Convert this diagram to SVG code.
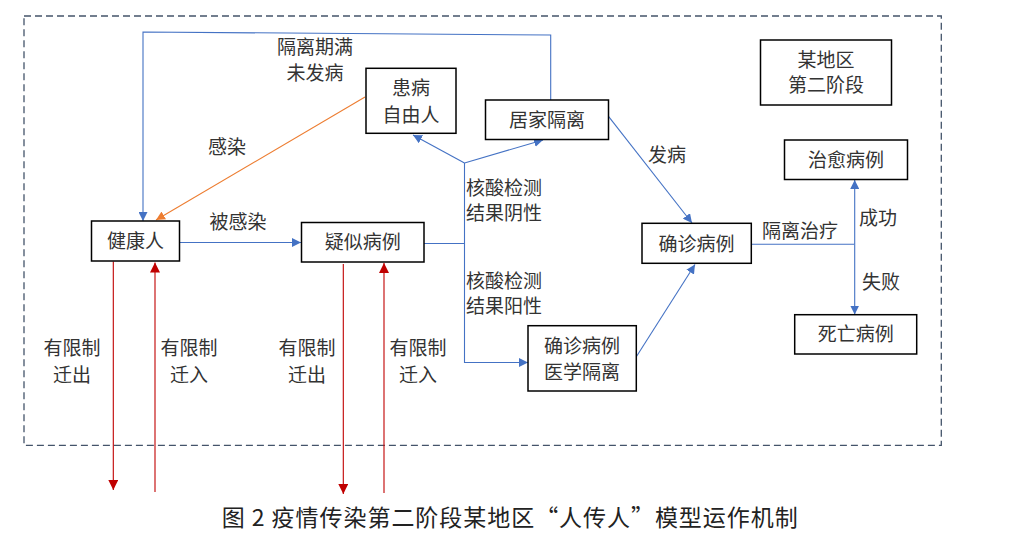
<svg xmlns="http://www.w3.org/2000/svg" width="1018" height="540" viewBox="0 0 1018 540">
<style>
  .box { fill: #ffffff; stroke: #000000; stroke-width: 1.5; }
  .t { font-family: "Noto Sans CJK SC", "Noto Sans CJK JP", sans-serif; font-size: 19px; fill: #333333; text-anchor: middle; }
  .tl { font-family: "Noto Sans CJK SC", "Noto Sans CJK JP", sans-serif; font-size: 19px; fill: #333333; text-anchor: start; }
  .blue { fill: none; stroke: #4472C4; stroke-width: 1.1; }
  .orange { fill: none; stroke: #ED7D31; stroke-width: 1.1; }
  .red { fill: none; stroke: #C00000; stroke-width: 1.1; }
  .frame { fill: none; stroke: #44546A; stroke-width: 1.3; stroke-dasharray: 7 4; }
  .cap { font-family: "Noto Sans CJK SC", "Noto Sans CJK JP", sans-serif; font-size: 23px; fill: #222222; }
</style>
<defs>
  <marker id="ab" viewBox="0 0 10 10" refX="10" refY="5" markerWidth="9" markerHeight="9" markerUnits="userSpaceOnUse" orient="auto">
    <path d="M0,0 L10,5 L0,10 z" fill="#4472C4"/>
  </marker>
  <marker id="ao" viewBox="0 0 10 10" refX="10" refY="5" markerWidth="9" markerHeight="9" markerUnits="userSpaceOnUse" orient="auto">
    <path d="M0,0 L10,5 L0,10 z" fill="#ED7D31"/>
  </marker>
  <marker id="ar" viewBox="0 0 10 10" refX="10" refY="5" markerWidth="10" markerHeight="10" markerUnits="userSpaceOnUse" orient="auto">
    <path d="M0,0 L10,5 L0,10 z" fill="#C00000"/>
  </marker>
</defs>

<rect class="frame" x="24" y="16" width="917.3" height="429.3"/>

<g id="connectors">
  <path class="blue" d="M550.7,100 V35 L143,32 V221" marker-end="url(#ab)"/>
  <path class="orange" d="M365,97 L156,220" marker-end="url(#ao)"/>
  <path class="blue" d="M179.5,242.5 H301" marker-end="url(#ab)"/>
  <path class="blue" d="M424,243.5 H464.5"/>
  <path class="blue" d="M464.5,163 V362.5 H528" marker-end="url(#ab)"/>
  <path class="blue" d="M464.5,163 L413,135" marker-end="url(#ab)"/>
  <path class="blue" d="M464.5,163 L543,140" marker-end="url(#ab)"/>
  <path class="blue" d="M608.7,116.7 L692,223" marker-end="url(#ab)"/>
  <path class="blue" d="M636.3,356.7 L695,264.5" marker-end="url(#ab)"/>
  <path class="blue" d="M751.3,244.3 H854.7"/>
  <path class="blue" d="M854.7,244.3 V180" marker-end="url(#ab)"/>
  <path class="blue" d="M854.7,244.3 V314.5" marker-end="url(#ab)"/>
  <path class="red" d="M113.3,261.5 V490" marker-end="url(#ar)"/>
  <path class="red" d="M155,492 V262.5" marker-end="url(#ar)"/>
  <path class="red" d="M343.3,264 V494" marker-end="url(#ar)"/>
  <path class="red" d="M384,493 V263" marker-end="url(#ar)"/>
</g>

<g id="labels">
  <text class="t" x="315" y="54">隔离期满</text>
  <text class="t" x="315" y="80">未发病</text>
  <text class="t" x="227" y="154">感染</text>
  <text class="t" x="238" y="229">被感染</text>
  <text class="tl" x="466" y="195">核酸检测</text>
  <text class="tl" x="466" y="220">结果阴性</text>
  <text class="tl" x="466" y="288">核酸检测</text>
  <text class="tl" x="466" y="313">结果阳性</text>
  <text class="t" x="667" y="162">发病</text>
  <text class="t" x="800" y="238">隔离治疗</text>
  <text class="t" x="878" y="225">成功</text>
  <text class="t" x="881" y="289">失败</text>
  <text class="t" x="72" y="355">有限制</text>
  <text class="t" x="72" y="382">迁出</text>
  <text class="t" x="189" y="355">有限制</text>
  <text class="t" x="189" y="382">迁入</text>
  <text class="t" x="307" y="355">有限制</text>
  <text class="t" x="307" y="382">迁出</text>
  <text class="t" x="418" y="355">有限制</text>
  <text class="t" x="418" y="382">迁入</text>
</g>

<g id="node-healthy">
  <rect class="box" x="91.5" y="221" width="88" height="40"/>
  <text class="t" x="135.5" y="248">健康人</text>
</g>
<g id="node-suspected">
  <rect class="box" x="301.5" y="222.5" width="122.5" height="39.5"/>
  <text class="t" x="362.7" y="249">疑似病例</text>
</g>
<g id="node-free-patient">
  <rect class="box" x="366" y="68.3" width="90" height="65"/>
  <text class="t" x="411" y="95">患病</text>
  <text class="t" x="411" y="122">自由人</text>
</g>
<g id="node-home-quarantine">
  <rect class="box" x="485.5" y="100" width="123" height="39.5"/>
  <text class="t" x="547" y="127">居家隔离</text>
</g>
<g id="node-region">
  <rect class="box" x="760.5" y="40" width="131" height="65"/>
  <text class="t" x="826" y="67">某地区</text>
  <text class="t" x="826" y="92">第二阶段</text>
</g>
<g id="node-cured">
  <rect class="box" x="784.5" y="140" width="123" height="39.5"/>
  <text class="t" x="846" y="167">治愈病例</text>
</g>
<g id="node-confirmed">
  <rect class="box" x="642" y="223.3" width="109.3" height="40"/>
  <text class="t" x="696.5" y="250.5">确诊病例</text>
</g>
<g id="node-confirmed-isolated">
  <rect class="box" x="528" y="325.7" width="108.3" height="65.3"/>
  <text class="t" x="582" y="353">确诊病例</text>
  <text class="t" x="582" y="379">医学隔离</text>
</g>
<g id="node-dead">
  <rect class="box" x="794.7" y="314.7" width="122" height="39.3"/>
  <text class="t" x="855.7" y="341">死亡病例</text>
</g>

<text class="cap" x="221.7" y="526" textLength="576" lengthAdjust="spacing">图 2 疫情传染第二阶段某地区“人传人”模型运作机制</text>
</svg>
